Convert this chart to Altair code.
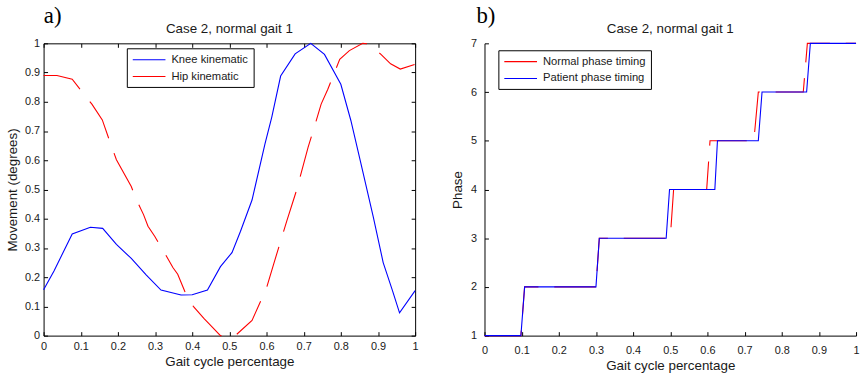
import altair as alt
import pandas as pd

# ---------------- data ----------------
knee_t = [0.0, 0.028, 0.077, 0.126, 0.159, 0.196, 0.236, 0.276, 0.316, 0.37, 0.40,
          0.441, 0.476, 0.507, 0.53, 0.561, 0.596, 0.614, 0.638, 0.677, 0.719, 0.756,
          0.80, 0.827, 0.854, 0.887, 0.914, 0.939, 0.958, 1.0]
knee_v = [0.157, 0.221, 0.348, 0.371, 0.367, 0.312, 0.264, 0.208, 0.156, 0.139, 0.14,
          0.156, 0.236, 0.284, 0.357, 0.464, 0.657, 0.747, 0.888, 0.964, 1.0, 0.962,
          0.86, 0.736, 0.589, 0.408, 0.25, 0.154, 0.078, 0.154]

hip_t = [0.0, 0.036, 0.077, 0.103, 0.13, 0.158, 0.181, 0.196, 0.236, 0.25, 0.269, 0.281,
         0.299, 0.325, 0.348, 0.361, 0.383, 0.403, 0.432, 0.445, 0.476, 0.516, 0.561,
         0.60, 0.619, 0.654, 0.681, 0.712, 0.73, 0.747, 0.765, 0.797, 0.823, 0.859,
         0.877, 0.908, 0.934, 0.96, 1.0]
hip_v = [0.89, 0.89, 0.877, 0.835, 0.792, 0.738, 0.654, 0.602, 0.51, 0.464, 0.414, 0.374,
         0.34, 0.284, 0.233, 0.21, 0.142, 0.1, 0.058, 0.041, 0.0, 0.0, 0.052,
         0.163, 0.244, 0.39, 0.498, 0.645, 0.719, 0.792, 0.843, 0.945, 0.975, 1.0,
         0.998, 0.962, 0.93, 0.912, 0.928]

phase_v = [1, 1, 2, 2, 3, 3, 4, 4, 5, 5, 6, 6, 7, 7]
normal_t = [0.0, 0.098, 0.108, 0.300, 0.309, 0.500, 0.509, 0.598, 0.607, 0.725, 0.737,
            0.858, 0.869, 1.0]
patient_t = [0.0, 0.098, 0.108, 0.300, 0.309, 0.489, 0.498, 0.620, 0.627, 0.737, 0.747,
             0.867, 0.877, 1.0]

x_ticks = [0, 0.1, 0.2, 0.3, 0.4, 0.5, 0.6, 0.7, 0.8, 0.9, 1]
move_ticks = [0, 0.1, 0.2, 0.3, 0.4, 0.5, 0.6, 0.7, 0.8, 0.9, 1]
phase_ticks = [1, 2, 3, 4, 5, 6, 7]

series_a = ["Knee kinematic", "Hip kinematic"]
series_b = ["Normal phase timing", "Patient phase timing"]
panel_title = "Case 2, normal gait 1"

# ---------------- style ----------------
FONT = "Liberation Sans"
SERIF = "Liberation Serif"
TXT = "#1a1a1a"
BLUE = "#0000ff"
RED = "#ff0000"
DASH = [42, 16]

knee_df = pd.DataFrame({"t": knee_t, "v": knee_v, "series": series_a[0]})
hip_df = pd.DataFrame({"t": hip_t, "v": hip_v, "series": series_a[1]})
normal_df = pd.DataFrame({"t": normal_t, "v": phase_v, "series": series_b[0]})
patient_df = pd.DataFrame({"t": patient_t, "v": phase_v, "series": series_b[1]})


def label_axis(orient, title, values, offset, tick_size, domain, ticks, title_pad, label_pad):
    return alt.Axis(orient=orient, values=values, format="~g", title=title, grid=False,
                    offset=offset, tickSize=tick_size, ticks=ticks, domain=domain,
                    domainColor="black", domainWidth=1, tickColor="black", tickWidth=1,
                    labelFont=FONT, labelFontSize=11, labelColor=TXT, labelFlush=False,
                    labelPadding=label_pad, titleFont=FONT, titleFontSize=13.5,
                    titleFontWeight="normal", titleColor=TXT, titlePadding=title_pad)


def tick_axis(orient, values):
    return alt.Axis(orient=orient, values=values, title=None, grid=False, labels=False,
                    domain=False, offset=-4, tickSize=4, tickColor="black", tickWidth=1)


def legend(x, y):
    return alt.Legend(title=None, orient="none", legendX=x, legendY=y,
                      symbolType="M-3,0H3", symbolSize=121, symbolStrokeWidth=1.1,
                      symbolOffset=11, labelOffset=16,
                      labelFont=FONT, labelFontSize=11.3, labelColor=TXT,
                      strokeColor="black", fillColor="white", padding=5, rowPadding=5)


def ptitle(text):
    return alt.Title(text, font=FONT, fontSize=13.5, fontWeight="normal", color=TXT,
                     anchor="middle", offset=2)


def letter(text, dx):
    return alt.Title(text, font=SERIF, fontSize=23, fontWeight="normal", color="black",
                     anchor="start", dx=dx, offset=-6)


W, H = 375, 295

# ---------------- panel a ----------------
col_a = alt.Scale(domain=series_a, range=[BLUE, RED])
xs_a = alt.Scale(domain=[0, 1], nice=False, zero=False)
ys_a = alt.Scale(domain=[0, 1], nice=False, zero=False)

knee = alt.Chart(knee_df).mark_line(strokeWidth=1.1).encode(
    x=alt.X("t:Q", scale=xs_a,
            axis=label_axis("bottom", "Gait cycle percentage", x_ticks, -4, 4, False, True, 3, 5)),
    y=alt.Y("v:Q", scale=ys_a,
            axis=label_axis("left", "Movement (degrees)", move_ticks, -4, 4, False, True, 5, 4)),
    color=alt.Color("series:N", scale=col_a, legend=legend(84, 5)),
)
hip = alt.Chart(hip_df).mark_line(strokeWidth=1.1, strokeDash=DASH).encode(
    x=alt.X("t:Q", scale=xs_a, axis=tick_axis("top", x_ticks)),
    y=alt.Y("v:Q", scale=ys_a, axis=tick_axis("right", move_ticks)),
    color=alt.Color("series:N", scale=col_a, legend=legend(84, 5)),
)
panel_a = alt.layer(knee, hip).resolve_axis(x="independent", y="independent").properties(
    width=W, height=H, title=ptitle(panel_title),
    view=alt.ViewBackground(stroke="black", strokeWidth=1),
)

# ---------------- panel b ----------------
col_b = alt.Scale(domain=series_b, range=[RED, BLUE])
xs_b = alt.Scale(domain=[0, 1], nice=False, zero=False)
ys_b = alt.Scale(domain=[1, 7], nice=False, zero=False)

normal = alt.Chart(normal_df).mark_line(strokeWidth=1.1, strokeDash=DASH).encode(
    x=alt.X("t:Q", scale=xs_b,
            axis=label_axis("bottom", "Gait cycle percentage", x_ticks, 0, 0, True, False, 3, 9)),
    y=alt.Y("v:Q", scale=ys_b,
            axis=label_axis("left", "Phase", phase_ticks, 0, 0, True, False, 6, 8)),
    color=alt.Color("series:N", scale=col_b, legend=legend(14, 7)),
)
patient = alt.Chart(patient_df).mark_line(strokeWidth=1.1).encode(
    x=alt.X("t:Q", scale=xs_b, axis=tick_axis("bottom", x_ticks)),
    y=alt.Y("v:Q", scale=ys_b, axis=tick_axis("left", phase_ticks)),
    color=alt.Color("series:N", scale=col_b, legend=legend(14, 7)),
)
panel_b = alt.layer(normal, patient).resolve_axis(x="independent", y="independent").properties(
    width=W, height=H, title=ptitle(panel_title),
    view=alt.ViewBackground(stroke="transparent", strokeWidth=0),
)

chart = alt.hconcat(
    alt.vconcat(panel_a, title=letter("a)", 39)),
    alt.vconcat(panel_b, title=letter("b)", 26)),
    spacing=31,
).resolve_scale(color="independent").properties(
    padding={"left": 5, "top": 3, "right": 0, "bottom": 0},
    background="white",
)

chart.save("out.html", embed_options={"renderer": "svg", "actions": False})
